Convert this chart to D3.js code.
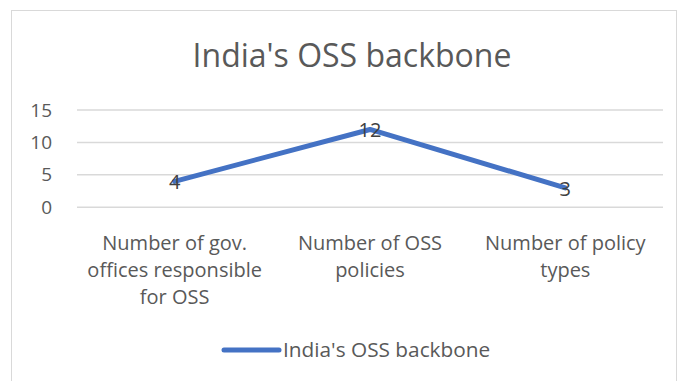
<!DOCTYPE html>
<html>
<head>
<meta charset="utf-8">
<script src="https://cdn.jsdelivr.net/npm/d3@7"></script>
<style>
  body { margin: 0; background: #fff; }
  text { font-family: "Open Sans", "Liberation Sans", sans-serif; }
</style>
</head>
<body>
<div id="chart"></div>
<script>
// Chart data
const categories = [
    "Number of gov. offices responsible for OSS",
    "Number of OSS policies",
    "Number of policy types"
];
const seriesName = "India's OSS backbone";
const values = [4, 12, 3];
const yTicks = [0, 5, 10, 15];

const width = 679;
const height = 381;
const margin = { top: 110, right: 16, bottom: 174, left: 77 };

const svg = d3.select("#chart")
    .append("svg")
    .attr("width", width)
    .attr("height", height);

// Chart border
svg.append("rect")
    .attr("x", 11.5).attr("y", 10.5)
    .attr("width", width - 14).attr("height", height - 8)
    .attr("fill", "#fff")
    .attr("stroke", "#d9d9d9");

const x = d3.scaleBand()
    .domain(categories)
    .range([margin.left, width - margin.right]);

const y = d3.scaleLinear()
    .domain([0, 15])
    .range([height - margin.bottom + 0.3, margin.top]);

// Title
svg.append("text")
    .attr("x", 352).attr("y", 67)
    .attr("text-anchor", "middle")
    .attr("fill", "#595959")
    .style("font-size", "32px")
    .text(seriesName);

// Gridlines
svg.append("g")
    .selectAll("line")
    .data(yTicks)
    .enter()
    .append("line")
    .attr("x1", margin.left).attr("x2", width - margin.right)
    .attr("y1", d => y(d)).attr("y2", d => y(d))
    .attr("stroke", "#d9d9d9")
    .attr("stroke-width", 1.5);

// Y axis labels
const yAxis = svg.append("g")
    .attr("transform", `translate(${margin.left - 25},0)`)
    .call(d3.axisLeft(y).tickValues(yTicks).tickSize(0).tickPadding(0));
yAxis.select(".domain").remove();
yAxis.selectAll("text")
    .attr("fill", "#595959")
    .style("font-size", "19px")
    .style("font-family", "'Open Sans', sans-serif");

// X axis labels, wrapped
const xAxis = svg.append("g")
    .attr("transform", `translate(0,${y(0)})`)
    .call(d3.axisBottom(x).tickSize(0).tickPadding(0));
xAxis.select(".domain").remove();
xAxis.selectAll("text")
    .attr("fill", "#595959")
    .attr("dy", null)
    .style("font-size", "20px")
    .style("font-family", "'Open Sans', sans-serif")
    .each(function(d) {
        const t = d3.select(this);
        const words = d.split(" ");
        t.text(null);
        let line = [];
        let lineNo = 0;
        let tspan = t.append("tspan").attr("x", 0).attr("y", 43);
        words.forEach(w => {
            line.push(w);
            tspan.text(line.join(" "));
            if (tspan.node().getComputedTextLength() > 190 && line.length > 1) {
                line.pop();
                tspan.text(line.join(" "));
                line = [w];
                lineNo++;
                tspan = t.append("tspan").attr("x", 0).attr("y", 43 + lineNo * 27).text(w);
            }
        });
    });

// Line
const line = d3.line()
    .x((d, i) => x(categories[i]) + x.bandwidth() / 2)
    .y(d => y(d));

svg.append("path")
    .datum(values)
    .attr("d", line)
    .attr("fill", "none")
    .attr("stroke", "#4472C4")
    .attr("stroke-width", 5)
    .attr("stroke-linecap", "round")
    .attr("stroke-linejoin", "round");

// Data labels
svg.append("g")
    .selectAll("text")
    .data(values)
    .enter()
    .append("text")
    .attr("x", (d, i) => x(categories[i]) + x.bandwidth() / 2)
    .attr("y", d => y(d) + 8)
    .attr("text-anchor", "middle")
    .attr("fill", "#404040")
    .style("font-size", "20px")
    .text(d => d);

// Legend
const legend = svg.append("g").attr("transform", "translate(224,350)");
legend.append("line")
    .attr("x1", 0).attr("x2", 55)
    .attr("stroke", "#4472C4")
    .attr("stroke-width", 5)
    .attr("stroke-linecap", "round");
legend.append("text")
    .attr("x", 59).attr("y", 7)
    .attr("fill", "#595959")
    .style("font-size", "20.8px")
    .text(seriesName);
</script>
</body>
</html>
